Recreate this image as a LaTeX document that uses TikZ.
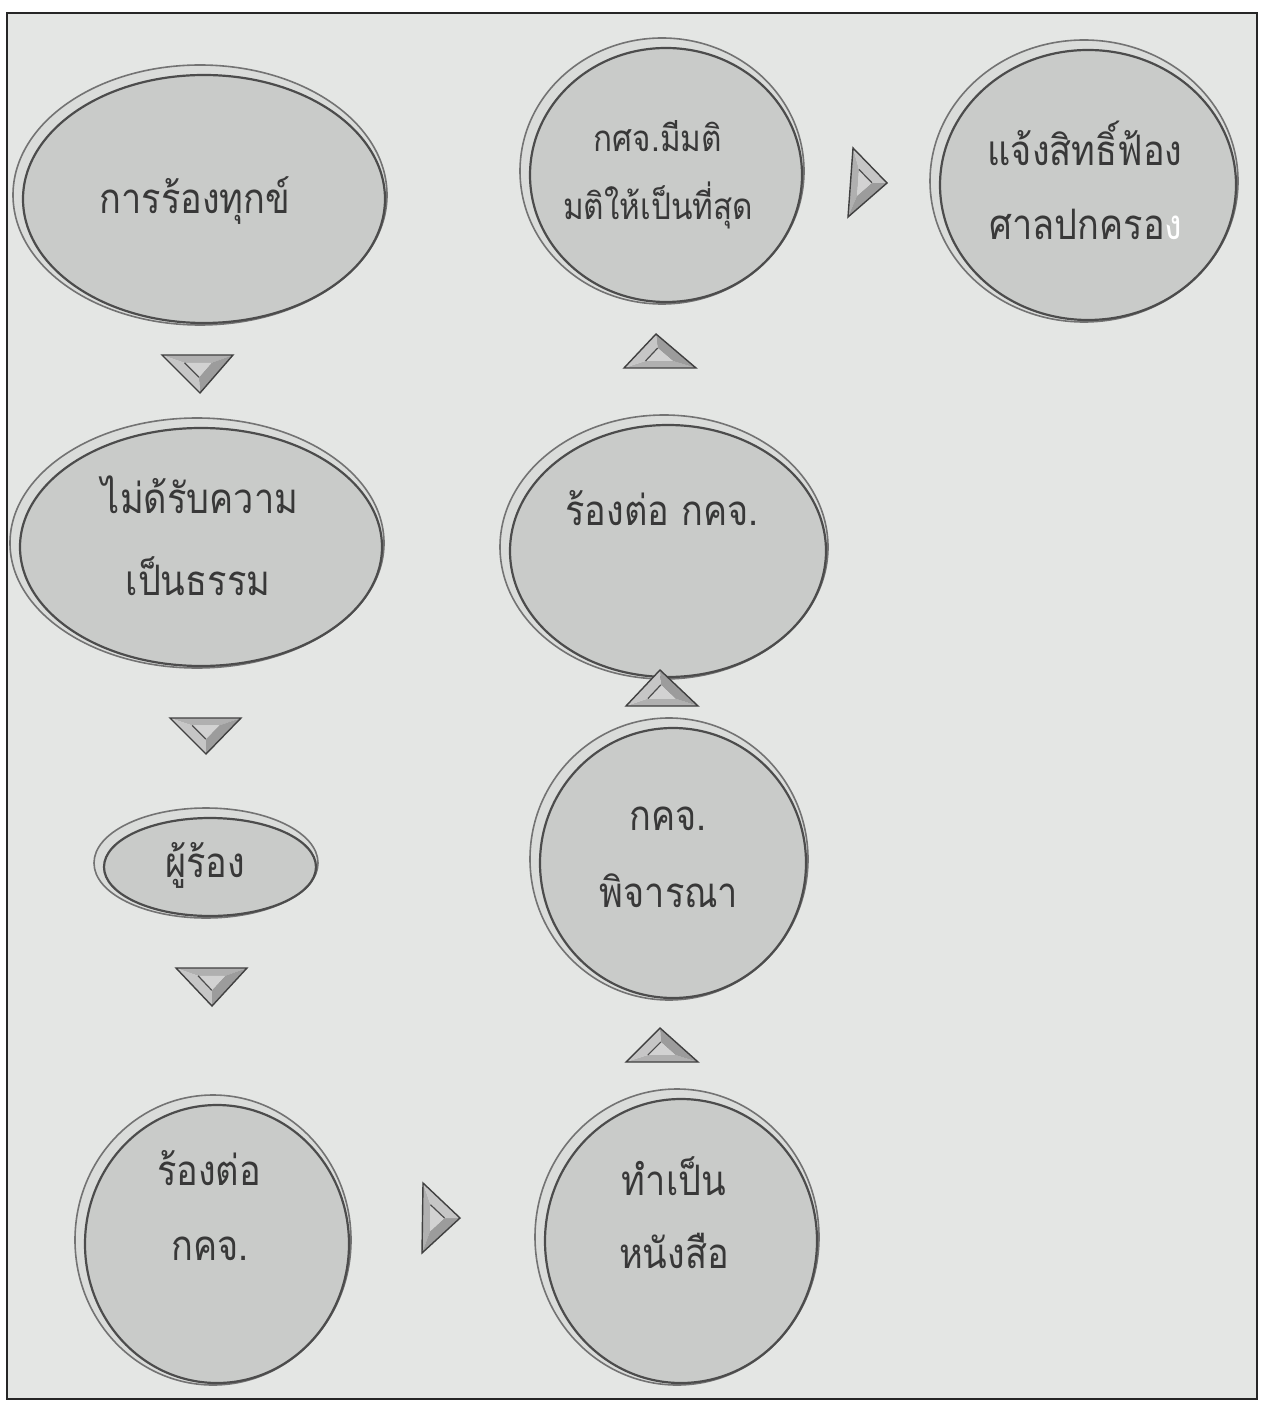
\documentclass[tikz,border=0pt]{standalone}
\usepackage{fontspec}
\newfontfamily\thaifont[Script=Thai,FakeStretch=0.86]{Loma}
\usetikzlibrary{shapes.geometric,calc}
\definecolor{bgpaper}{HTML}{E4E6E4}
\definecolor{bubfill}{HTML}{C9CBC9}
\definecolor{ringfill}{HTML}{DADCDA}
\tikzset{
  outerbub/.style={ellipse, draw=black!55, line width=0.8pt, fill=ringfill, inner sep=0pt},
  innerbub/.style={ellipse, draw=black!70, line width=1.1pt, fill=bubfill, inner sep=0pt},
  lbl/.style={anchor=base, inner sep=0pt, text=black!78, font=\thaifont\fontsize{21}{25}\selectfont},
  lblsmall/.style={lbl, font=\thaifont\fontsize{18.3}{22}\selectfont},
  tria/.style={fill=gray!62},
  trib/.style={fill=gray!78},
  tric/.style={fill=gray!45},
  trii/.style={fill=gray!35},
  triedge/.style={draw=black!75, line width=0.7pt, line join=miter}
}
% name, cx, cy, rx, ry (pixel units)
\newcommand\bub[5]{%
  \node[outerbub, minimum width=#4 pt, minimum height=#5 pt] (#1) at (#2,#3) {};
  \node[innerbub, minimum width=#4 pt - 6pt, minimum height=#5 pt - 6pt] (#1i) at (#2+4,#3+4) {};
}
% name, base corner A, base corner B, apex C
\newcommand\bevtri[4]{%
  \path (#2) coordinate (#1A) (#3) coordinate (#1B) (#4) coordinate (#1C);
  \coordinate (#1O) at (barycentric cs:#1A=1,#1B=1,#1C=1);
  \path ($(#1O)!0.38!(#1A)$) coordinate (#1a)
        ($(#1O)!0.38!(#1B)$) coordinate (#1b)
        ($(#1O)!0.38!(#1C)$) coordinate (#1c);
  \fill[tria] (#1A)--(#1B)--(#1b)--(#1a)--cycle;
  \fill[trib] (#1B)--(#1C)--(#1c)--(#1b)--cycle;
  \fill[tric] (#1C)--(#1A)--(#1a)--(#1c)--cycle;
  \fill[trii] (#1a)--(#1b)--(#1c)--cycle;
  \draw[black!70, line width=0.6pt] (#1a)--(#1c);
  \draw[triedge] (#1A)--(#1B)--(#1C)--cycle;
}
\begin{document}
\begin{tikzpicture}[x=0.5pt,y=-0.5pt]
\useasboundingbox (0,0) rectangle (1262,1406);
\fill[white] (0,0) rectangle (1262,1406);
\draw[fill=bgpaper, draw=black!85, line width=0.8pt] (7,13) rectangle (1257,1399);

% bubbles
\bub{e1}{200}{195}{187}{130}
\bub{e2}{197}{543}{187}{125}
\bub{e3}{206}{863}{112}{55}
\bub{e4}{213}{1240}{138}{145}
\bub{e5}{677}{1237}{142}{148}
\bub{e6}{669}{859}{139}{141}
\bub{e7}{664}{547}{164}{132}
\bub{e8}{662}{171}{142}{133}
\bub{e9}{1084}{181}{154}{141}

% labels
\node[lbl] (t1) at (195,214) {การร้องทุกข์};
\node[lbl] (t2a) at (200,513) {ไม่ด้รับความ};
\node[lbl] (t2b) at (198,595) {เป็นธรรม};
\node[lbl] (t3) at (205,877) {ผู้ร้อง};
\node[lbl] (t4a) at (209,1185) {ร้องต่อ};
\node[lbl] (t4b) at (210,1260) {กคจ.};
\node[lbl] (t5a) at (674,1195) {ทำเป็น};
\node[lbl] (t5b) at (674,1268) {หนังสือ};
\node[lbl] (t6a) at (668,830) {กคจ.};
\node[lbl] (t6b) at (669,907) {พิจารณา};
\node[lbl] (t7) at (662,525) {ร้องต่อ กคจ.};
\node[lblsmall] (t8a) at (658,152) {กศจ.มีมติ};
\node[lblsmall] (t8b) at (658,220) {มติให้เป็นที่สุด};
\node[lbl] (t9a) at (1085,166) {แจ้งสิทธิ์ฟ้อง};
\node[lbl] (t9b) at (1086,240) {ศาลปกครอ\textcolor{white}{ง}};

% beveled triangle arrows
\bevtri{d1}{162,355}{233,355}{200,393}
\bevtri{d2}{170,718}{241,718}{206,754}
\bevtri{d3}{176,968}{247,968}{212,1006}
\bevtri{r1}{423,1183}{422,1253}{460,1218}
\bevtri{u1}{626,1062}{698,1062}{660,1028}
\bevtri{u2}{626,706}{698,706}{660,670}
\bevtri{u3}{624,368}{696,368}{656,334}
\bevtri{r2}{853,148}{848,217}{887,183}
\end{tikzpicture}
\end{document}
